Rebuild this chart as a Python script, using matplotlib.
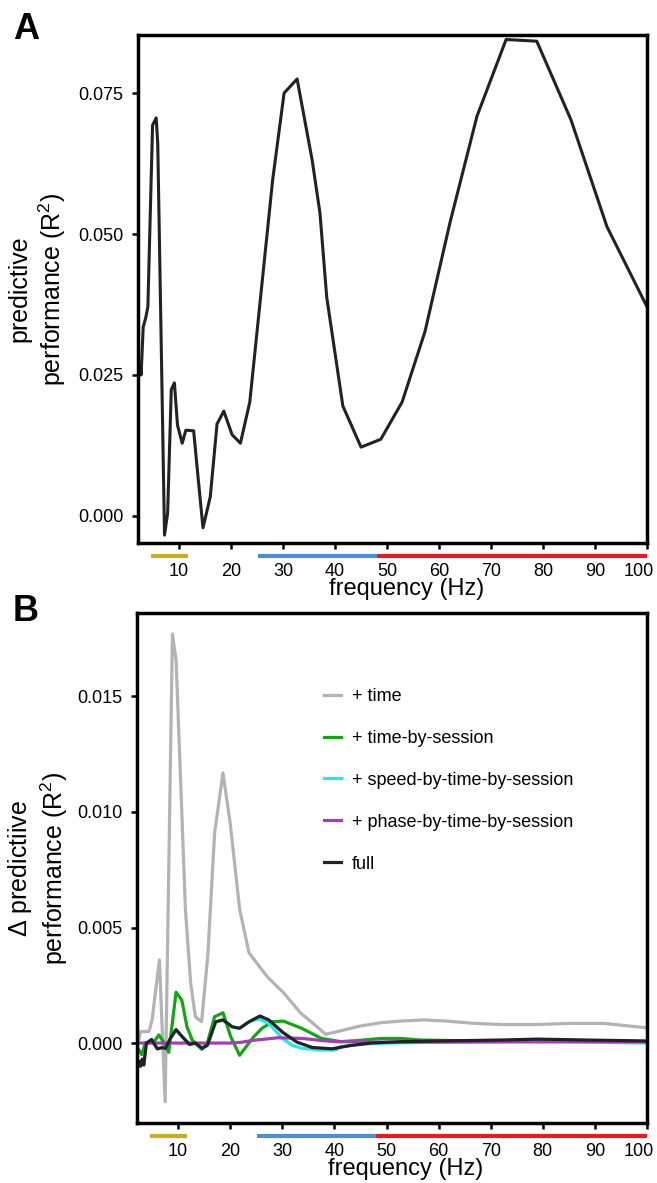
import matplotlib
matplotlib.use("Agg")
import matplotlib.pyplot as plt
import matplotlib.transforms as mtransforms

plt.rcParams['font.family'] = ['Liberation Sans', 'DejaVu Sans']
plt.rcParams['mathtext.default'] = 'regular'

# panel A: predictive performance vs frequency
freq_a = [2.5, 2.7, 3.1, 3.6, 4.0, 4.9, 5.6, 5.9, 7.2, 7.8, 8.5, 9.1, 9.7, 10.6, 11.3,
          12.8, 13.7, 14.6, 16.0, 17.3, 18.6, 20.2, 21.8, 23.6, 28.0, 30.2, 32.7, 35.6,
          37.1, 38.4, 41.5, 45.0, 48.8, 52.9, 57.3, 62.1, 67.3, 72.9, 78.8, 85.4, 92.3, 100.0]
r2_a = [0.0271, 0.0250, 0.0335, 0.0352, 0.0371, 0.0693, 0.0706, 0.0660, -0.0034, 0.0005,
        0.0224, 0.0236, 0.0161, 0.0129, 0.0152, 0.0151, 0.0064, -0.0021, 0.0034, 0.0163,
        0.0186, 0.0144, 0.0129, 0.0202, 0.0596, 0.0750, 0.0775, 0.0631, 0.0537, 0.0388,
        0.0195, 0.0122, 0.0136, 0.0202, 0.0327, 0.0520, 0.0709, 0.0845, 0.0842, 0.0702,
        0.0513, 0.0371]

# panel B: delta predictive performance per model term
freq_time = [2.3, 2.8, 4.4, 5.0, 6.4, 7.5, 8.9, 9.6, 11.4, 12.4, 13.3, 14.5, 15.7, 17.0,
             18.6, 20.0, 21.8, 23.6, 27.1, 30.3, 33.5, 36.7, 38.3, 41.2, 45.0, 48.9, 52.7,
             57.2, 61.6, 66.8, 72.5, 78.3, 85.3, 91.7, 100.0]
d_time = [0.0000, 0.0005, 0.0005, 0.0010, 0.0036, -0.00254, 0.0177, 0.01658, 0.00576,
          0.0026, 0.00114, 0.00092, 0.0038, 0.0091, 0.01169, 0.0095, 0.0058, 0.0039,
          0.00287, 0.00216, 0.0013, 0.0007, 0.00038, 0.00053, 0.00074, 0.00088, 0.00095,
          0.0010, 0.00095, 0.00085, 0.0008, 0.0008, 0.00085, 0.00085, 0.00066]

freq_tbs = [2.2, 3.0, 3.7, 4.4, 5.5, 6.3, 7.3, 8.2, 9.6, 10.7, 11.7, 12.7, 14.5, 15.6,
            17.0, 18.6, 20.1, 21.8, 24.5, 26.1, 28.1, 30.2, 33.7, 37.5, 41.2, 45.0, 48.9,
            52.7, 56.5, 65.0, 80.0, 100.0]
d_tbs = [-0.0002, -0.0005, 0.0000, 0.0000, 0.0001, 0.00035, 0.0000, -0.0004, 0.0022,
         0.00186, 0.0007, 0.00013, -0.00027, 0.0000, 0.00114, 0.00131, 0.00027, -0.00053,
         0.00027, 0.00064, 0.00092, 0.00095, 0.00064, 0.0002, 0.00006, 0.00012, 0.0002,
         0.0002, 0.00013, 0.0001, 0.00013, 0.00005]

freq_speed = [2.05, 2.5, 2.8, 3.1, 3.4, 3.9, 4.9, 6.0, 6.9, 7.6, 8.5, 9.6, 10.8, 12.2,
              13.3, 14.6, 15.6, 17.2, 18.6, 20.4, 21.8, 23.6, 25.5, 27.4, 30.0, 31.9,
              33.8, 37.5, 40.2, 41.2, 45.0, 50.0, 60.0, 70.0, 80.0, 90.0, 100.0]
d_speed = [-0.00117, -0.0008, -0.001, -0.0007, -0.00095, 0.0, 0.00015, -0.00025, -0.0002,
           -0.00023, 0.0002, 0.00058, 0.00027, -0.00006, 0.0, -0.00023, -0.0001, 0.00092,
           0.001, 0.0007, 0.00064, 0.00092, 0.00105, 0.00085, 0.0002, -0.0001, -0.00023,
           -0.0003, -0.0003, -0.00016, -0.00005, 0.0, 0.00004, 0.00005, 0.00008, 0.00004, 0.0]

freq_phase = [2.2, 10.0, 20.0, 22.0, 24.5, 29.3, 33.8, 37.6, 40.2, 50.0, 70.0, 100.0]
d_phase = [0.0, 0.0, 0.0, 0.00003, 0.00012, 0.00023, 0.0002, 0.00011, 0.00006, 0.00004,
           0.00005, 0.00005]

freq_full = [2.05, 2.5, 2.8, 3.1, 3.4, 3.9, 4.9, 6.0, 6.9, 7.6, 8.5, 9.6, 10.8, 12.2, 13.3,
             14.6, 15.6, 17.2, 18.6, 20.4, 21.8, 23.6, 25.7, 27.4, 30.1, 32.8, 35.7, 39.5,
             43.0, 47.0, 52.7, 62.8, 72.4, 78.9, 88.5, 100.0]
d_full = [-0.00117, -0.0008, -0.001, -0.0007, -0.00095, 0.0, 0.00015, -0.00025, -0.0002,
          -0.00023, 0.0002, 0.00058, 0.00027, -0.00006, 0.0, -0.00023, -0.0001, 0.00092,
          0.001, 0.0007, 0.00064, 0.00092, 0.00117, 0.001, 0.00046, 0.00004, -0.00019,
          -0.00025, -0.00011, 0.0, 0.00006, 0.0001, 0.00013, 0.00017, 0.00013, 0.00009]

series_b = [
    (freq_time, d_time, '#b3b3b3', '+ time'),
    (freq_tbs, d_tbs, '#14a514', '+ time-by-session'),
    (freq_speed, d_speed, '#22e8ec', '+ speed-by-time-by-session'),
    (freq_phase, d_phase, '#a23fb5', '+ phase-by-time-by-session'),
    (freq_full, d_full, '#222222', 'full'),
]

# frequency bands marked under the x axis
band_start = [4.6, 25.2, 48.0]
band_end = [11.7, 48.0, 100.0]
band_color = ['#c8ae1e', '#4a8fd8', '#e81c1c']

fig = plt.figure(figsize=(6.57, 11.83), dpi=100)
ax_a = fig.add_axes([138/657, 1-543/1183, 509/657, 508/1183])
ax_b = fig.add_axes([137/657, 1-1123/1183, 510/657, 510/1183])


def style_axis(ax):
    for s in ax.spines.values():
        s.set_linewidth(2.5)
    ax.tick_params(axis='both', direction='out', length=4.5, width=1.8, labelsize=13)
    ax.tick_params(axis='x', pad=10)
    ax.tick_params(axis='y', pad=6)
    ax.set_xlim(2.1, 100)
    ax.set_xticks([10, 20, 30, 40, 50, 60, 70, 80, 90, 100])
    # last label sits a little to the left so it stays inside the figure
    last = ax.get_xticklabels()[-1]
    last.set_transform(last.get_transform() +
                       mtransforms.ScaledTranslation(-8/100, 0, fig.dpi_scale_trans))
    trans = mtransforms.blended_transform_factory(ax.transData, ax.transAxes)
    for a, b, c in zip(band_start, band_end, band_color):
        ax.plot([a, b], [-0.025, -0.025], color=c, lw=3, transform=trans,
                clip_on=False, solid_capstyle='butt')
    ax.text(0.527, -0.091, 'frequency (Hz)', transform=ax.transAxes,
            ha='center', va='center', fontsize=17)


ax_a.plot(freq_a, r2_a, color='#222222', lw=2.2)
style_axis(ax_a)
ax_a.set_ylim(-0.0048, 0.0853)
ax_a.set_yticks([0.0, 0.025, 0.050, 0.075])
ax_a.set_yticklabels(['0.000', '0.025', '0.050', '0.075'])

for f, v, c, lab in series_b:
    ax_b.plot(f, v, color=c, lw=2.3, label=lab)
style_axis(ax_b)
ax_b.set_ylim(-0.00346, 0.01861)
ax_b.set_yticks([0.0, 0.005, 0.010, 0.015])
ax_b.set_yticklabels(['0.000', '0.005', '0.010', '0.015'])
ax_b.legend(loc='upper left', bbox_to_anchor=(0.367, 0.853), frameon=False, fontsize=13,
            borderpad=0, borderaxespad=0, handlelength=0.95, handletextpad=0.6,
            labelspacing=1.38)

fig.text(38/657, 1-289/1183, 'predictive\nperformance (R$^2$)', rotation=90,
         ha='center', va='center', fontsize=18, multialignment='center')
fig.text(38/657, 1-868/1183, '$\\Delta$ predictiive\nperformance (R$^2$)', rotation=90,
         ha='center', va='center', fontsize=18, multialignment='center')
fig.text(13/657, 1-12/1183, 'A', fontsize=26, fontweight='bold', va='top', ha='left')
fig.text(13/657, 1-594/1183, 'B', fontsize=26, fontweight='bold', va='top', ha='left')

fig.savefig('out.png', dpi=100)
